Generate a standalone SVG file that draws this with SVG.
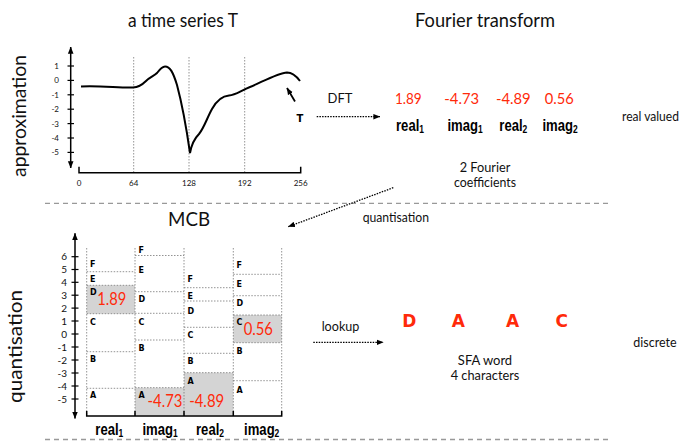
<svg xmlns="http://www.w3.org/2000/svg" width="684" height="441" viewBox="0 0 684 441">
<defs>
<marker id="ah" viewBox="0 0 10 10" refX="9.5" refY="5" markerWidth="7" markerHeight="7" markerUnits="userSpaceOnUse" orient="auto-start-reverse"><path d="M0,1 L10,5 L0,9 z" fill="#000"/></marker>
</defs>
<style>
.t{font-family:Lato,"Open Sans","DejaVu Sans",sans-serif;fill:#111}
.red{fill:#ff2a0a}
.lbl{font-family:"Liberation Sans",Arial,sans-serif;font-weight:bold;font-size:17px;fill:#000}
.sub{font-size:11px}
.let{font-family:"DejaVu Sans",sans-serif;font-weight:bold;font-size:8px;fill:#000}
.big{font-family:"DejaVu Sans",sans-serif;font-weight:bold;font-size:17px;fill:#ff2a0a}
.dot{stroke:#777;stroke-width:0.8;stroke-dasharray:1.5,1.5;fill:none}
.sep{stroke:#999;stroke-width:1.3;stroke-dasharray:5,4;fill:none}
.cell{fill:#d4d4d4}
.ax{stroke:#000;stroke-width:1.5;fill:none}
.tk{stroke:#000;stroke-width:1.2}
.conn{stroke:#000;stroke-width:1.3;stroke-dasharray:1.5,1.2;fill:none}
</style>
<rect width="684" height="441" fill="#fff"/>

<g id="separators">
<line class="sep" x1="45" y1="203.3" x2="612" y2="203.3"/>
<line class="sep" x1="45" y1="439.5" x2="612" y2="439.5"/>
</g>

<g id="row-labels">
<text class="t" font-size="20" text-anchor="middle" transform="translate(26,116) rotate(-90)" textLength="122" lengthAdjust="spacingAndGlyphs">approximation</text>
<text class="t" font-size="20" text-anchor="middle" transform="translate(22,346.5) rotate(-90)" textLength="113" lengthAdjust="spacingAndGlyphs">quantisation</text>
</g>

<g id="time-series">
<text class="t" x="183" y="27" font-size="20" text-anchor="middle" textLength="110" lengthAdjust="spacingAndGlyphs">a time series T</text>
<line class="ax" x1="70.7" y1="47" x2="70.7" y2="168" marker-start="url(#ah)" marker-end="url(#ah)"/>
<g class="tk">
<line x1="67.5" y1="66" x2="74" y2="66"/>
<line x1="67.5" y1="80.4" x2="74" y2="80.4"/>
<line x1="67.5" y1="94.8" x2="74" y2="94.8"/>
<line x1="67.5" y1="109.2" x2="74" y2="109.2"/>
<line x1="67.5" y1="123.6" x2="74" y2="123.6"/>
<line x1="67.5" y1="138" x2="74" y2="138"/>
<line x1="67.5" y1="152.4" x2="74" y2="152.4"/>
</g>
<g class="t" font-size="8" text-anchor="end">
<text x="59" y="69">1</text>
<text x="59" y="83.4">0</text>
<text x="59" y="97.8">-1</text>
<text x="59" y="112.2">-2</text>
<text x="59" y="126.6">-3</text>
<text x="59" y="141">-4</text>
<text x="59" y="155.4">-5</text>
</g>
<path class="ax" d="M79,166.7 V172.7 H300.7 V166.7"/>
<line class="dot" x1="133.7" y1="57" x2="133.7" y2="172"/>
<line class="dot" x1="189" y1="57" x2="189" y2="172"/>
<line class="dot" x1="244.7" y1="57" x2="244.7" y2="172"/>
<g class="t" font-size="8" text-anchor="middle">
<text x="79" y="186">0</text>
<text x="133.7" y="186">64</text>
<text x="189" y="186">128</text>
<text x="244.7" y="186">192</text>
<text x="300.7" y="186">256</text>
</g>
<path d="M81,86.5 C100,85.5 120,88 133,87.5 C139,87.3 142,85 146,81 C150,77 154,76 157,73 C160,69 162,66.5 165,66.5 C170,66.5 173,72 177,85 C181,100 186,125 190,153 C192,142 195,138 199,134 C204,128 207,118 212,109 C217,100 222,96 229,95.5 C236,95 240,91 250,87 C262,82 278,73 287,72.5 C293,72.5 297,77 300,81" fill="none" stroke="#000" stroke-width="2"/>
<line x1="295" y1="101.5" x2="287" y2="88" stroke="#000" stroke-width="1.8" marker-end="url(#ah)"/>
<text x="300" y="122" font-family="DejaVu Sans,sans-serif" font-weight="bold" font-size="10" text-anchor="middle">T</text>
</g>

<g id="fourier">
<text class="t" x="485" y="27" font-size="20" text-anchor="middle" textLength="140" lengthAdjust="spacingAndGlyphs">Fourier transform</text>
<g class="t red" font-size="16" text-anchor="middle">
<text x="408.3" y="103.5" textLength="26.7" lengthAdjust="spacingAndGlyphs">1.89</text>
<text x="461.7" y="103.5" textLength="34.7" lengthAdjust="spacingAndGlyphs">-4.73</text>
<text x="513.3" y="103.5" textLength="34.7" lengthAdjust="spacingAndGlyphs">-4.89</text>
<text x="559.3" y="103.5" textLength="29" lengthAdjust="spacingAndGlyphs">0.56</text>
</g>
<text class="lbl" text-anchor="middle" transform="translate(410,131) scale(0.77,1)">real<tspan class="sub" dy="2">1</tspan></text>
<text class="lbl" text-anchor="middle" transform="translate(465,131) scale(0.77,1)">imag<tspan class="sub" dy="2">1</tspan></text>
<text class="lbl" text-anchor="middle" transform="translate(513.3,131) scale(0.77,1)">real<tspan class="sub" dy="2">2</tspan></text>
<text class="lbl" text-anchor="middle" transform="translate(560,131) scale(0.77,1)">imag<tspan class="sub" dy="2">2</tspan></text>
<text class="t" x="622" y="121" font-size="13" textLength="57" lengthAdjust="spacingAndGlyphs">real valued</text>
<text class="t" x="485" y="172" font-size="13" text-anchor="middle" textLength="50.7" lengthAdjust="spacingAndGlyphs">2 Fourier</text>
<text class="t" x="485" y="187" font-size="13" text-anchor="middle" textLength="62" lengthAdjust="spacingAndGlyphs">coefficients</text>
</g>

<g id="mcb">
<text class="t" x="189" y="226" font-size="20" text-anchor="middle" textLength="42" lengthAdjust="spacingAndGlyphs">MCB</text>
<rect class="cell" x="86.7" y="285.3" width="48.3" height="28.4"/>
<rect class="cell" x="135" y="387.7" width="49" height="27.8"/>
<rect class="cell" x="184" y="372.7" width="49.3" height="42.8"/>
<rect class="cell" x="233.3" y="315" width="48.4" height="27.7"/>
<line class="ax" x1="75" y1="233.3" x2="75" y2="418.5" marker-start="url(#ah)" marker-end="url(#ah)"/>
<g class="tk">
<line x1="71.5" y1="256.7" x2="78.5" y2="256.7"/>
<line x1="71.5" y1="269.5" x2="78.5" y2="269.5"/>
<line x1="71.5" y1="282.3" x2="78.5" y2="282.3"/>
<line x1="71.5" y1="295.2" x2="78.5" y2="295.2"/>
<line x1="71.5" y1="308.1" x2="78.5" y2="308.1"/>
<line x1="71.5" y1="321" x2="78.5" y2="321"/>
<line x1="71.5" y1="334" x2="78.5" y2="334"/>
<line x1="71.5" y1="347" x2="78.5" y2="347"/>
<line x1="71.5" y1="360" x2="78.5" y2="360"/>
<line x1="71.5" y1="373" x2="78.5" y2="373"/>
<line x1="71.5" y1="386" x2="78.5" y2="386"/>
<line x1="71.5" y1="399" x2="78.5" y2="399"/>
</g>
<g class="t" font-size="10" text-anchor="end">
<text x="67" y="260.2">6</text>
<text x="67" y="273">5</text>
<text x="67" y="285.8">4</text>
<text x="67" y="298.7">3</text>
<text x="67" y="311.6">2</text>
<text x="67" y="324.5">1</text>
<text x="67" y="337.5">0</text>
<text x="67" y="350.5">-1</text>
<text x="67" y="363.5">-2</text>
<text x="67" y="376.5">-3</text>
<text x="67" y="389.5">-4</text>
<text x="67" y="402.5">-5</text>
</g>
<g class="dot">
<line x1="86.7" y1="248" x2="86.7" y2="416"/>
<line x1="135" y1="248" x2="135" y2="416"/>
<line x1="184" y1="248" x2="184" y2="416"/>
<line x1="233.3" y1="248" x2="233.3" y2="416"/>
<line x1="281.7" y1="248" x2="281.7" y2="416"/>
<line x1="86.7" y1="271.7" x2="135" y2="271.7"/>
<line x1="86.7" y1="285.3" x2="135" y2="285.3"/>
<line x1="86.7" y1="313.7" x2="135" y2="313.7"/>
<line x1="86.7" y1="351.7" x2="135" y2="351.7"/>
<line x1="86.7" y1="388.3" x2="135" y2="388.3"/>
<line x1="135" y1="255.5" x2="184" y2="255.5"/>
<line x1="135" y1="291.7" x2="184" y2="291.7"/>
<line x1="135" y1="313.3" x2="184" y2="313.3"/>
<line x1="135" y1="340" x2="184" y2="340"/>
<line x1="135" y1="387.7" x2="184" y2="387.7"/>
<line x1="184" y1="287.7" x2="233.3" y2="287.7"/>
<line x1="184" y1="301" x2="233.3" y2="301"/>
<line x1="184" y1="327.3" x2="233.3" y2="327.3"/>
<line x1="184" y1="353.3" x2="233.3" y2="353.3"/>
<line x1="184" y1="372.7" x2="233.3" y2="372.7"/>
<line x1="233.3" y1="274.3" x2="281.7" y2="274.3"/>
<line x1="233.3" y1="295.7" x2="281.7" y2="295.7"/>
<line x1="233.3" y1="315" x2="281.7" y2="315"/>
<line x1="233.3" y1="342.7" x2="281.7" y2="342.7"/>
<line x1="233.3" y1="380.7" x2="281.7" y2="380.7"/>
</g>
<path class="ax" d="M86.7,411 V416 H281.7 V411 M135,411 V416 M184,411 V416 M233.3,411 V416"/>
<g class="let">
<text x="90" y="266.5">F</text>
<text x="90" y="281.5">E</text>
<text x="90" y="295">D</text>
<text x="90" y="325">C</text>
<text x="90" y="361.5">B</text>
<text x="90" y="398">A</text>
<text x="138.5" y="252.5">F</text>
<text x="138.5" y="273">E</text>
<text x="138.5" y="302">D</text>
<text x="138.5" y="325">C</text>
<text x="138.5" y="351">B</text>
<text x="138.5" y="398">A</text>
<text x="187.5" y="281.5">F</text>
<text x="187.5" y="299">E</text>
<text x="187.5" y="314">D</text>
<text x="187.5" y="338">C</text>
<text x="187.5" y="364">B</text>
<text x="187.5" y="384">A</text>
<text x="236.5" y="268">F</text>
<text x="236.5" y="286.5">E</text>
<text x="236.5" y="306">D</text>
<text x="236.5" y="325">C</text>
<text x="236.5" y="354">B</text>
<text x="236.5" y="392.5">A</text>
</g>
<g class="t red" font-size="17" text-anchor="middle">
<text x="111.7" y="305" textLength="29" lengthAdjust="spacingAndGlyphs">1.89</text>
<text x="165" y="406.7" textLength="35" lengthAdjust="spacingAndGlyphs">-4.73</text>
<text x="206.7" y="406.7" textLength="35" lengthAdjust="spacingAndGlyphs">-4.89</text>
<text x="258.3" y="335" textLength="29.3" lengthAdjust="spacingAndGlyphs">0.56</text>
</g>
<text class="lbl" text-anchor="middle" transform="translate(109.3,435) scale(0.77,1)">real<tspan class="sub" dy="2">1</tspan></text>
<text class="lbl" text-anchor="middle" transform="translate(160,435) scale(0.77,1)">imag<tspan class="sub" dy="2">1</tspan></text>
<text class="lbl" text-anchor="middle" transform="translate(210,435) scale(0.77,1)">real<tspan class="sub" dy="2">2</tspan></text>
<text class="lbl" text-anchor="middle" transform="translate(261.7,435) scale(0.77,1)">imag<tspan class="sub" dy="2">2</tspan></text>
</g>

<g id="sfa-word">
<g class="big" text-anchor="middle">
<text x="409.3" y="327">D</text>
<text x="458.3" y="327">A</text>
<text x="512.7" y="327">A</text>
<text x="561.7" y="327">C</text>
</g>
<text class="t" x="485" y="365" font-size="13" text-anchor="middle" textLength="54.3" lengthAdjust="spacingAndGlyphs">SFA word</text>
<text class="t" x="485" y="380" font-size="13" text-anchor="middle" textLength="68.7" lengthAdjust="spacingAndGlyphs">4 characters</text>
<text class="t" x="633.3" y="347" font-size="13" textLength="43.3" lengthAdjust="spacingAndGlyphs">discrete</text>
</g>

<g id="connectors">
<line class="conn" x1="316.7" y1="116.7" x2="380" y2="116.7" marker-end="url(#ah)"/>
<text class="t" x="340" y="103" font-size="13" text-anchor="middle">DFT</text>
<line class="conn" x1="393.3" y1="187.7" x2="288.3" y2="226.7" marker-end="url(#ah)"/>
<text class="t" x="395.8" y="221.7" font-size="13" text-anchor="middle" textLength="66.3" lengthAdjust="spacingAndGlyphs">quantisation</text>
<line class="conn" x1="313.3" y1="342.3" x2="383.3" y2="342.3" marker-end="url(#ah)"/>
<text class="t" x="340.5" y="331" font-size="13" text-anchor="middle" textLength="37.7" lengthAdjust="spacingAndGlyphs">lookup</text>
</g>
</svg>
